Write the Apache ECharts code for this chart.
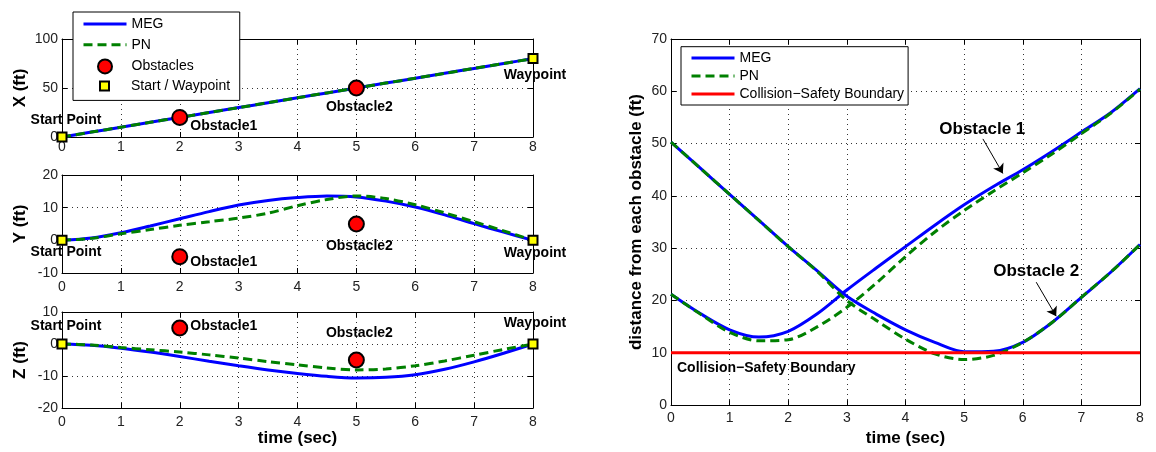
<!DOCTYPE html>
<html>
<head>
<meta charset="utf-8">
<script src="https://cdn.jsdelivr.net/npm/echarts@6/dist/echarts.min.js"></script>
<style>
  html, body { margin: 0; padding: 0; background: #fff; }
  #chart { width: 1156px; height: 452px; }
</style>
</head>
<body>
<div id="chart"></div>
<script>
// Data
const times = [0, 0.5, 1, 1.5, 2, 2.5, 3, 3.5, 4, 4.5, 5, 5.5, 6, 6.5, 7, 7.5, 8];

// left panel: trajectories
const megX = [0, 5, 10, 15, 20, 25, 30, 35, 40, 45, 50, 55, 60, 65, 70, 75, 80];
const pnX = [0, 5, 10, 15, 20, 25, 30, 35, 40, 45, 50, 55, 60, 65, 70, 75, 80];
const megY = [0, 0.7, 2.3, 4.4, 6.6, 8.8, 10.8, 12.2, 13.1, 13.6, 13.3, 12.0, 10.2, 7.8, 5.1, 2.5, 0];
const pnY = [0, 0.6, 2.0, 3.3, 4.6, 5.7, 6.8, 8.3, 10.6, 12.5, 13.6, 12.8, 10.9, 8.4, 5.7, 2.9, 0];
const megZ = [0, -0.4, -1.3, -2.5, -3.9, -5.4, -6.8, -8.1, -9.2, -10.1, -10.6, -10.4, -9.6, -7.9, -5.6, -2.9, 0];
const pnZ = [0, -0.3, -1.1, -1.8, -2.5, -3.4, -4.4, -5.5, -6.5, -7.5, -8.1, -7.8, -6.8, -5.3, -3.5, -1.7, 0];

// obstacles and start / waypoint
const obstacleNames = ["Obstacle1", "Obstacle2"];
const obstacleT = [2, 5];
const obstacleX = [20, 50];
const obstacleY = [-5, 5];
const obstacleZ = [5, -5];
const endpointNames = ["Start Point", "Waypoint"];
const endpointT = [0, 8];
const endpointX = [0, 80];
const endpointY = [0, 0];
const endpointZ = [0, 0];

// right panel: distance from each obstacle
const megDist1 = [21.2, 17.5, 14.4, 13.0, 14.1, 17.5, 22.0, 26.2, 30.3, 34.4, 38.3, 41.8, 45.0, 48.5, 52.2, 55.9, 60.5];
const pnDist1 = [21.2, 17.4, 13.9, 12.3, 12.5, 15.0, 18.7, 23.3, 28.4, 33.1, 37.2, 40.9, 44.4, 48.0, 51.9, 55.8, 60.4];
const megDist2 = [50.3, 45.3, 40.3, 35.3, 30.3, 25.6, 20.8, 17.4, 14.4, 12.0, 10.2, 10.3, 12.0, 15.8, 20.6, 25.4, 30.7];
const pnDist2 = [50.3, 45.3, 40.3, 35.3, 30.3, 25.5, 20.0, 16.2, 12.6, 9.8, 8.7, 9.5, 12.0, 15.8, 20.6, 25.4, 30.7];
const boundaryT = [0, 8];
const boundaryDist = [10, 10];

// Styles
const FONT = '"Liberation Sans", Arial, Helvetica, sans-serif';
const BLUE = "#0000ff";
const GREEN = "#008000";
const RED = "#ff0000";
const gridLine = { color: "#333", width: 1, type: [1, 4] };
const nameStyle = { fontFamily: FONT, fontSize: 17, fontWeight: "bold", color: "#000" };
const tickLabel = { fontFamily: FONT, fontSize: 14, color: "#222" };
const noteStyle = { fontFamily: FONT, fontWeight: "bold", color: "#000" };

function pairs(xs, ys) {
  return xs.map((x, i) => [x, ys[i]]);
}

// Axes: one box per grid, ticks on all four sides (matlab style)
const chartElem = document.getElementById("chart");
const grids = [
  { left: 62, top: 39, width: 471, height: 98 },
  { left: 62, top: 175, width: 471, height: 98 },
  { left: 62, top: 312, width: 471, height: 96 },
  { left: 671, top: 39, width: 469, height: 370 },
];

function edgeAxis(gridIndex, min, max, interval, position, withLabels, margin) {
  return {
    gridIndex: gridIndex,
    type: "value",
    min: min,
    max: max,
    interval: interval,
    position: position,
    axisLine: { show: true, onZero: false, lineStyle: { color: "#000", width: 1 } },
    axisTick: { show: true, inside: true, length: 5, lineStyle: { color: "#000", width: 1 } },
    axisLabel: Object.assign({ show: withLabels, margin: margin }, tickLabel),
    splitLine: { show: withLabels, lineStyle: gridLine },
  };
}

const xAxis = [];
const yAxis = [];
function addAxes(g, yMin, yMax, yStep, yName, yGap, xName, xMargin) {
  const bottom = edgeAxis(g, 0, 8, 1, "bottom", true, xMargin);
  if (xName) {
    Object.assign(bottom, { name: xName, nameLocation: "middle", nameGap: 22, nameTextStyle: nameStyle });
  }
  xAxis.push(bottom, edgeAxis(g, 0, 8, 1, "top", false, 0));
  const left = edgeAxis(g, yMin, yMax, yStep, "left", true, 4);
  Object.assign(left, { name: yName, nameLocation: "middle", nameGap: yGap, nameTextStyle: nameStyle });
  yAxis.push(left, edgeAxis(g, yMin, yMax, yStep, "right", false, 0));
}
addAxes(0, 0, 100, 50, "X (ft)", 33, null, 3.5);
addAxes(1, -10, 20, 10, "Y (ft)", 33, null, 7);
addAxes(2, -20, 10, 10, "Z (ft)", 33, "time (sec)", 7);
addAxes(3, 0, 70, 10, "distance from each obstacle (ft)", 26, "time (sec)", 6);

// Series
function lineSeries(g, name, ys, color, dashed) {
  return {
    type: "line",
    name: name,
    xAxisIndex: 2 * g,
    yAxisIndex: 2 * g,
    data: pairs(times, ys),
    symbol: "none",
    smooth: 0.3,
    lineStyle: { color: color, width: 3, type: dashed ? [9, 5] : "solid" },
    itemStyle: { color: color },
    z: 2,
  };
}

// label offsets (px) for the text next to each marker, per subplot
const obstacleLabelOffsets = [
  [[44, 9], [3, 19]],
  [[44, 5], [3, 22]],
  [[44, -2], [3, -27]],
];
const endpointLabelOffsets = [
  [[4, -17], [2, 17]],
  [[4, 12], [2, 13]],
  [[4, -18], [2, -21]],
];

const trajVals = [[megX, pnX], [megY, pnY], [megZ, pnZ]];
const obstacleVals = [obstacleX, obstacleY, obstacleZ];
const endpointVals = [endpointX, endpointY, endpointZ];

const series = [];
for (let g = 0; g < 3; g++) {
  series.push(lineSeries(g, "MEG", trajVals[g][0], BLUE, false));
  series.push(lineSeries(g, "PN", trajVals[g][1], GREEN, true));
  series.push({
    type: "scatter",
    name: "Obstacles",
    xAxisIndex: 2 * g,
    yAxisIndex: 2 * g,
    symbol: "circle",
    symbolSize: 15,
    itemStyle: { color: RED, borderColor: "#000", borderWidth: 2, opacity: 1 },
    label: Object.assign({ show: true, position: "inside", fontSize: 14 }, noteStyle),
    data: obstacleT.map((t, i) => ({
      value: [t, obstacleVals[g][i]],
      label: { formatter: obstacleNames[i], offset: obstacleLabelOffsets[g][i] },
    })),
    z: 4,
  });
  series.push({
    type: "scatter",
    name: "Start / Waypoint",
    xAxisIndex: 2 * g,
    yAxisIndex: 2 * g,
    symbol: "rect",
    symbolSize: 9,
    itemStyle: { color: "#ffff00", borderColor: "#000", borderWidth: 2, opacity: 1 },
    label: Object.assign({ show: true, position: "inside", fontSize: 14 }, noteStyle),
    data: endpointT.map((t, i) => ({
      value: [t, endpointVals[g][i]],
      label: { formatter: endpointNames[i], offset: endpointLabelOffsets[g][i] },
    })),
    z: 5,
  });
}

// right panel
series.push(lineSeries(3, "MEG", megDist1, BLUE, false));
series.push(lineSeries(3, "MEG", megDist2, BLUE, false));
series.push(lineSeries(3, "PN", pnDist1, GREEN, true));
series.push(lineSeries(3, "PN", pnDist2, GREEN, true));
series.push({
  type: "line",
  name: "Collision\u2212Safety Boundary",
  xAxisIndex: 6,
  yAxisIndex: 6,
  symbol: "none",
  lineStyle: { color: RED, width: 3 },
  itemStyle: { color: RED },
  data: pairs(boundaryT, boundaryDist),
  z: 3,
});

// annotations (arrows + text), in data coordinates of the right panel
function noteLabel(text, size, extra) {
  return Object.assign({ show: true, fontSize: size, formatter: text }, noteStyle, extra);
}
series.push({
  type: "line",
  name: "notes",
  xAxisIndex: 6,
  yAxisIndex: 6,
  data: [],
  z: 6,
  markLine: {
    silent: true,
    symbol: ["none", "arrow"],
    symbolSize: 9,
    lineStyle: { color: "#000", width: 1, type: "solid" },
    label: { show: false },
    data: [
      [{ coord: [5.32, 50.9] }, { coord: [5.66, 44.3] }],
      [{ coord: [6.23, 23.5] }, { coord: [6.57, 17.0] }],
    ],
  },
  markPoint: {
    silent: true,
    symbol: "circle",
    symbolSize: 0,
    data: [
      { coord: [5.31, 52.8], label: noteLabel("Obstacle 1", 17, { position: "inside" }) },
      { coord: [6.23, 25.5], label: noteLabel("Obstacle 2", 17, { position: "inside" }) },
      {
        coord: [boundaryT[0], boundaryDist[0]],
        label: noteLabel("Collision\u2212Safety Boundary", 14, { position: "right", distance: 6, offset: [0, 15] }),
      },
    ],
  },
});

const legendText = { fontFamily: FONT, fontSize: 14, color: "#000" };
const lineOnly = { opacity: 0 };

let chart = echarts.init(chartElem, null, { renderer: "canvas" });

let option = {
  animation: false,
  backgroundColor: "#fff",
  grid: grids,
  xAxis: xAxis,
  yAxis: yAxis,
  legend: [
    {
      data: [
        { name: "MEG", itemStyle: lineOnly },
        { name: "PN", itemStyle: lineOnly },
        "Obstacles",
      ],
      orient: "vertical",
      left: 73,
      top: 12,
      padding: [5, 46, 26, 9],
      itemWidth: 43,
      itemHeight: 14,
      itemGap: 6.7,
      lineStyle: { width: 3 },
      borderColor: "#000",
      borderWidth: 1,
      backgroundColor: "#fff",
      selectedMode: false,
      textStyle: legendText,
      z: 8,
    },
    {
      data: [{ name: "Start / Waypoint", icon: "rect" }],
      orient: "vertical",
      left: 99,
      top: 79,
      padding: 0,
      itemWidth: 9,
      itemHeight: 9,
      selectedMode: false,
      textStyle: Object.assign({ padding: [0, 0, 0, 17] }, legendText),
      z: 10,
    },
    {
      data: [
        { name: "MEG", itemStyle: lineOnly },
        { name: "PN", itemStyle: lineOnly },
        { name: "Collision\u2212Safety Boundary", itemStyle: lineOnly },
      ],
      orient: "vertical",
      left: 681,
      top: 46.7,
      padding: [4.3, 4, 4, 9],
      itemWidth: 43,
      itemHeight: 14,
      itemGap: 4,
      lineStyle: { width: 3 },
      borderColor: "#000",
      borderWidth: 1,
      backgroundColor: "#fff",
      selectedMode: false,
      textStyle: legendText,
      z: 8,
    },
  ],
  series: series,
};

chart.setOption(option);
</script>
</body>
</html>
